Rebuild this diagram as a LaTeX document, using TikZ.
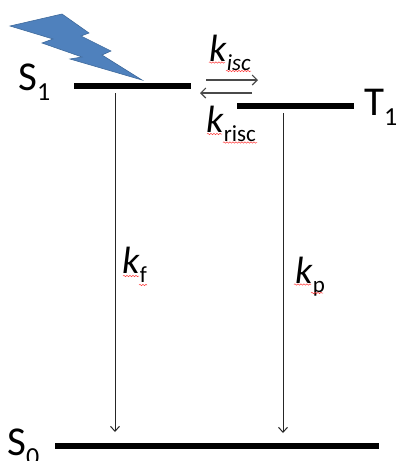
\documentclass[tikz,border=0pt]{standalone}
\usepackage{fontspec}
\setmainfont{Carlito}
\usetikzlibrary{arrows.meta,decorations.pathmorphing}
\definecolor{boltblue}{HTML}{4F81BD}
\definecolor{boltedge}{HTML}{3F6A9C}
\definecolor{darkgray}{HTML}{4A4A4A}
\newcommand{\lowtext}[1]{{\fontsize{23}{23}\selectfont\raisebox{-9.5pt}{#1}}}
\newcommand{\lowstate}[1]{{\fontsize{26}{26}\selectfont\raisebox{-10.5pt}{#1}}}
\tikzset{
    level/.style={line width=6pt},
    decay/.style={-{Straight Barb[length=5pt,width=9pt]},line width=1pt,draw=black!85},
    transfer/.style={-{Straight Barb[length=5pt,width=10pt]},line width=1.1pt,draw=darkgray},
    label/.style={anchor=base west,inner sep=0pt,font=\fontsize{38}{38}\selectfont},
    statelabel/.style={anchor=base west,inner sep=0pt,font=\fontsize{41}{41}\selectfont},
    squiggle/.style={red!75,line width=0.5pt,decorate,decoration={snake,amplitude=0.7pt,segment length=3pt}}
}
\begin{document}
\begin{tikzpicture}[x=1pt,y=-1pt]
            \useasboundingbox (0,0) rectangle (398,461);
            \coordinate (x1) at (74,85.5);
            \coordinate (x2) at (191,85.5);
            \coordinate (x3) at (237,106);
            \coordinate (x4) at (354,106);
            \coordinate (x5) at (55,445.5);
            \coordinate (x6) at (379,445.5);
            \coordinate (x7) at (115,93);
            \coordinate (x8) at (115,432);
            \coordinate (x9) at (283,113);
            \coordinate (x10) at (283,433);
            \coordinate (x11) at (206,80);
            \coordinate (x12) at (258,80);
            \coordinate (x13) at (252,93);
            \coordinate (x14) at (200,93);
            %Bolt
            \filldraw[fill=boltblue,draw=boltedge,line width=0.6pt] (10,26) -- (62,14) -- (89,33) -- (81,36) -- (111,51) -- (102,55) -- (142,80) -- (70,59) -- (82,57) -- (42,43) -- (53,39) -- cycle;
            %Levels
            \draw[level] (x1) -- (x2);
            \draw[level] (x3) -- (x4);
            \draw[level] (x5) -- (x6);
            %Arrows
            \draw[decay] (x7) -- (x8);
            \draw[decay] (x9) -- (x10);
            \draw[transfer] (x11) -- (x12);
            \draw[transfer] (x13) -- (x14);
            %Labels
            \node[statelabel] (s1) at (18,90) {S\lowstate{1}};
            \node[statelabel] (t1) at (364,115) {T\lowstate{1}};
            \node[statelabel] (s0) at (7,455) {S\lowstate{0}};
            \node[label] (kisc) at (209,61) {\textit{k}\lowtext{\textit{isc}}};
            \node[label] (krisc) at (206,132) {\textit{k}\lowtext{risc}};
            \node[label] (kf) at (122,273) {\textit{k}\lowtext{f}};
            \node[label] (kp) at (295,283) {\textit{k}\lowtext{p}};
            %Spelling marks
            \draw[squiggle] (209,62.5) -- (225,62.5);
            \draw[squiggle] (226,71) -- (251,71);
            \draw[squiggle] (207,134) -- (222,134);
            \draw[squiggle] (223,142.5) -- (257,142.5);
            \draw[squiggle] (123,276) -- (139,276);
            \draw[squiggle] (139,285) -- (147,285);
            \draw[squiggle] (294,284.5) -- (311,284.5);
            \draw[squiggle] (311,293) -- (323,293);
        \end{tikzpicture}
\end{document}
